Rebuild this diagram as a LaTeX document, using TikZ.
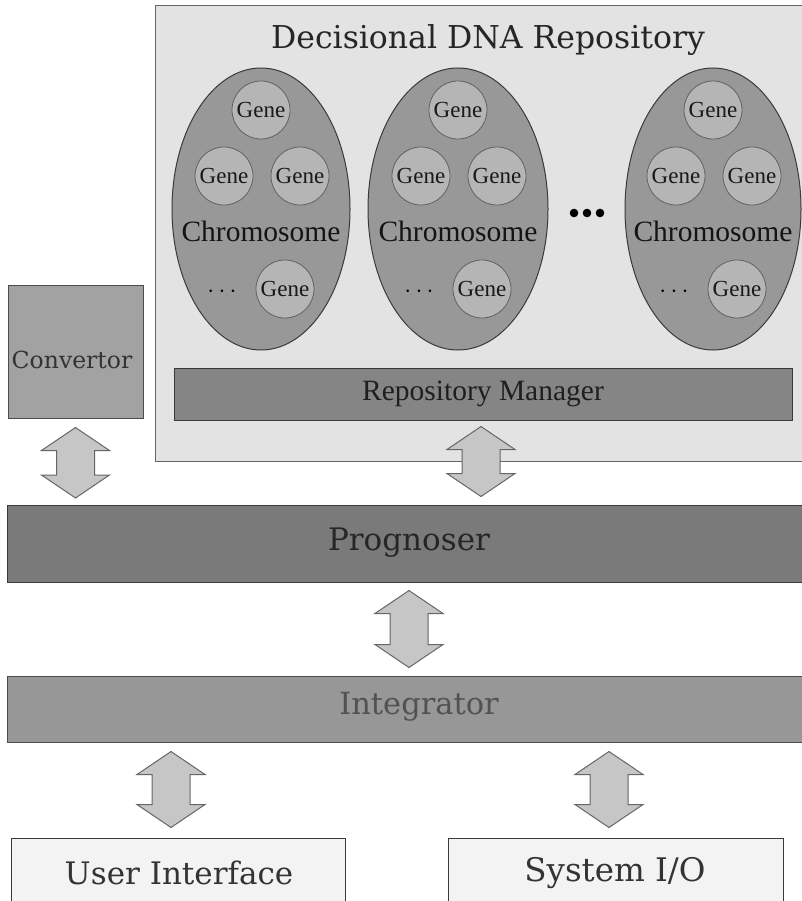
\documentclass[tikz,border=0pt]{standalone}
\usepackage{fontspec}
\setmainfont{Liberation Serif}
\newfontfamily\blockfont{DejaVu Serif}
\usetikzlibrary{calc,shapes.geometric}

\definecolor{repofill}{HTML}{E3E3E3}
\definecolor{chromfill}{HTML}{989898}
\definecolor{genefill}{HTML}{B5B5B5}
\definecolor{mgrfill}{HTML}{858585}
\definecolor{convfill}{HTML}{A2A2A2}
\definecolor{progfill}{HTML}{7A7A7A}
\definecolor{integfill}{HTML}{979797}
\definecolor{iofill}{HTML}{F3F3F3}
\definecolor{arrowfill}{HTML}{C6C6C6}
\definecolor{edge}{HTML}{3A3A3A}

\tikzset{
  box/.style={draw=edge, line width=1pt, rectangle, inner sep=0pt},
  chrom/.style={draw=edge, line width=1pt, fill=chromfill, ellipse, inner sep=0pt},
  gene/.style={draw=edge!80, line width=0.8pt, fill=genefill, circle, minimum size=58pt,
    inner sep=0pt, font=\fontsize{23}{23}\selectfont, text=black!90},
  chromlabel/.style={font=\fontsize{29.5}{29.5}\selectfont, text=black!92},
  blocklabel/.style={font=\blockfont\fontsize{31}{31}\selectfont, text=black!85},
  twoway/.style={draw=black!60, line width=1pt, fill=arrowfill, line join=miter},
}

% double-headed block arrow between a top tip and a bottom tip
\newcommand\twowayarrow[2]{%
  \draw[twoway] let \p1=(#1), \p2=(#2) in
    (\x1,\y1) -- (\x1+34pt,\y1-23pt) -- (\x1+19pt,\y1-23pt) -- (\x1+19pt,\y2+23pt)
    -- (\x1+34pt,\y2+23pt) -- (\x1,\y2) -- (\x1-34pt,\y2+23pt) -- (\x1-19pt,\y2+23pt)
    -- (\x1-19pt,\y1-23pt) -- (\x1-34pt,\y1-23pt) -- cycle;}

\begin{document}
\begin{tikzpicture}[x=1pt, y=-1pt]
\useasboundingbox (0,0) rectangle (802,901);
\fill[white] (0,0) rectangle (802,901);

% repository frame
\node[box, draw=black!60, fill=repofill, minimum width=653pt, minimum height=455pt]
  (repo) at (481.5,233.5) {};
\node[blocklabel, font=\blockfont\fontsize{31.5}{31.5}\selectfont] (title) at (488,40)
  {Decisional DNA Repository};

% chromosomes with their genes
\foreach \n/\cx/\rx in {1/261/89, 2/458/90, 3/713/88} {
  \node[chrom, minimum width=2*\rx pt, minimum height=282pt] (chr\n) at (\cx,209) {};
  \node[chromlabel] (chrl\n) at (\cx,231) {Chromosome};
  \node[gene] (g\n a) at (\cx,110) {Gene};
  \node[gene] (g\n b) at (\cx-37,176) {Gene};
  \node[gene] (g\n c) at (\cx+39,176) {Gene};
  \node[gene] (g\n d) at (\cx+24,289) {Gene};
  \node[font=\fontsize{27}{27}\selectfont] (dots\n) at (\cx-39,292) {$\cdots$};
}
\foreach \dx in {-13,0,13}
  \fill (587+\dx,213) circle (4.3pt);

% repository manager
\node[box, fill=mgrfill, minimum width=618pt, minimum height=52pt,
  font=\fontsize{29.5}{29.5}\selectfont, text=black!88] (mgr) at (483,394) {Repository Manager};

% convertor
\node[box, draw=black!70, fill=convfill, minimum width=135pt, minimum height=133pt] (conv) at (75.5,351.5) {};
\node[blocklabel, font=\blockfont\fontsize{23.5}{23.5}\selectfont, text=black!80] (convl) at (72,360) {Convertor};

% prognoser and integrator bars
\node[box, fill=progfill, minimum width=801pt, minimum height=77pt] (prog) at (407.5,543.5) {};
\node[blocklabel] (progl) at (409,543) {Prognoser};
\node[box, draw=black!70, fill=integfill, minimum width=801pt, minimum height=66pt] (integ) at (407.5,709) {};
\node[blocklabel, font=\blockfont\fontsize{30.5}{30.5}\selectfont, text=black!68] (integl) at (419,707) {Integrator};

% input / output boxes
\node[box, fill=iofill, minimum width=334pt, minimum height=68pt] (ui) at (178,872) {};
\node[blocklabel, text=black!80] (uil) at (179,873) {User Interface};
\node[box, fill=iofill, minimum width=335pt, minimum height=68pt] (sysio) at (615.5,872) {};
\node[blocklabel, font=\blockfont\fontsize{32.5}{32.5}\selectfont, text=black!80] (sysiol) at (615,873) {System I/O};

% arrow tips
\coordinate (a1t) at ($(conv.south)+(0,9)$);
\coordinate (a1b) at (a1t |- 0,498);
\coordinate (a2t) at ($(mgr.south)+(-2,6)$);
\coordinate (a2b) at ($(prog.north -| a2t)+(0,-8)$);
\coordinate (a3t) at ($(prog.south)+(1.5,8)$);
\coordinate (a3b) at ($(integ.north)+(1.5,-8)$);
\coordinate (a4t) at ($(integ.south -| ui.south)+(-7,9)$);
\coordinate (a4b) at ($(ui.north)+(-7,-10)$);
\coordinate (a5t) at ($(integ.south -| sysio.south)+(-6.5,9)$);
\coordinate (a5b) at ($(sysio.north)+(-6.5,-10)$);

\twowayarrow{a1t}{a1b}
\twowayarrow{a2t}{a2b}
\twowayarrow{a3t}{a3b}
\twowayarrow{a4t}{a4b}
\twowayarrow{a5t}{a5b}
\end{tikzpicture}
\end{document}
